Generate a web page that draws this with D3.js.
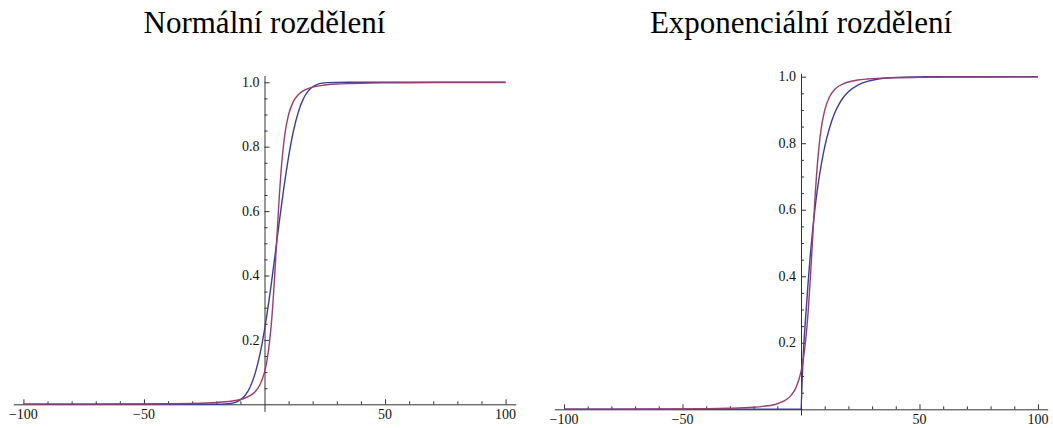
<!DOCTYPE html>
<html>
<head>
<meta charset="utf-8">
<script src="https://cdn.jsdelivr.net/npm/d3@7"></script>
<style>
  html, body { margin: 0; padding: 0; background: #fff; }
  svg { display: block; }
</style>
</head>
<body>
<svg id="chart" width="1053" height="428"></svg>
<script>
// Panel titles
const titles = ["Normální rozdělení", "Exponenciální rozdělení"];

// Tick values
const xMajorTicks = [-100, -50, 50, 100];
const xMinorTicks = [-90, -80, -70, -60, -40, -30, -20, -10, 10, 20, 30, 40, 60, 70, 80, 90];
const yMajorTicks = [0.2, 0.4, 0.6, 0.8, 1.0];
const yMinorTicks = [0.05, 0.1, 0.15, 0.25, 0.3, 0.35, 0.45, 0.5, 0.55, 0.65, 0.7, 0.75, 0.85, 0.9, 0.95];

// Left panel: distribution functions, normal case
const normX = [-100, -80, -60, -40, -30, -24, -20, -16, -14, -12,
  -10, -8, -6, -4, -2, 0, 1, 2, 3, 4, 5, 6, 7, 8, 9, 10,
  12, 14, 16, 18, 20, 22, 24, 26, 30, 35, 40, 50, 60, 80, 100];
const normBlue = [0, 0, 0, 0, 0, 0, 0.0001, 0.0010, 0.0026, 0.0062,
  0.0137, 0.0280, 0.0529, 0.0928, 0.1517, 0.2311,
  0.2782, 0.3296, 0.3843, 0.4415, 0.5, 0.5585, 0.6157, 0.6704, 0.7218, 0.7689,
  0.8483, 0.9072, 0.9471, 0.9720, 0.9863, 0.9938, 0.9974, 0.9990,
  0.9999, 1, 1, 1, 1, 1, 1];
const normPurple = [0.0003, 0.0005, 0.0008, 0.0017, 0.0028, 0.0041, 0.0055, 0.0078, 0.0095, 0.0117,
  0.0149, 0.0196, 0.0267, 0.0384, 0.0592, 0.0999,
  0.1352, 0.1875, 0.2646, 0.3712, 0.5, 0.6288, 0.7354, 0.8125, 0.8648, 0.9001,
  0.9408, 0.9616, 0.9733, 0.9804, 0.9851, 0.9883, 0.9905, 0.9922,
  0.9945, 0.9961, 0.9972, 0.9983, 0.9988, 0.9994, 0.9996];

// Right panel: distribution functions, exponential case
const expX = [-100, -80, -60, -40, -30, -24, -20, -16, -14, -12,
  -10, -8, -6, -4, -2, 0, 0.5, 1, 2, 3, 4, 5, 6, 7, 8, 9, 10,
  12, 14, 16, 18, 20, 24, 28, 32, 36, 40, 50, 60, 80, 100];
const expBlue = [0, 0, 0, 0, 0, 0, 0, 0, 0, 0,
  0, 0, 0, 0, 0, 0, 0.09, 0.17, 0.28, 0.38, 0.47, 0.545, 0.61, 0.665, 0.712, 0.753, 0.789,
  0.845, 0.887, 0.917, 0.939, 0.955, 0.975, 0.986, 0.992, 0.996, 0.998,
  0.9995, 1, 1, 1];
const expPurple = [0.0004, 0.0005, 0.0009, 0.0019, 0.0032, 0.0046, 0.0062, 0.0087, 0.0106, 0.0131,
  0.0168, 0.0220, 0.0302, 0.0435, 0.0671, 0.1132, 0.131, 0.1525, 0.210, 0.292, 0.400, 0.525, 0.646, 0.744, 0.816, 0.865, 0.899,
  0.939, 0.960, 0.972, 0.979, 0.984, 0.990, 0.993, 0.995, 0.996, 0.997,
  0.998, 0.9987, 0.9993, 0.9996];

const BLUE = "#3d3d99";
const PURPLE = "#993d74";
const AXIS = "#333";
const SERIF = "'Liberation Serif', 'Times New Roman', serif";
const LABEL_SIZE = "14px";

const svg = d3.select("#chart");
const fmtX = d3.format("d");
const fmtY = d3.format(".1f");

function drawPanel(cfg) {
  const x = d3.scaleLinear().domain(cfg.xDomain).range(cfg.xRange);
  const y = d3.scaleLinear().domain(cfg.yDomain).range(cfg.yRange);
  const g = svg.append("g");

  const x0 = x(0), y0 = y(0);

  // x axis line with minor and major ticks pointing up
  const xa = g.append("g").attr("transform", `translate(0,${y0})`);
  xa.append("g").call(d3.axisTop(x).tickValues(xMinorTicks).tickSize(3).tickSizeOuter(0).tickFormat(""));
  xa.append("g").call(d3.axisTop(x).tickValues(xMajorTicks).tickSize(5).tickSizeOuter(0).tickFormat(""))
    .select(".domain").remove();

  // y axis line with ticks to the right
  const ya = g.append("g").attr("transform", `translate(${x0},0)`);
  ya.append("g").call(d3.axisRight(y).tickValues(yMinorTicks).tickSize(3).tickSizeOuter(0).tickFormat(""));
  ya.append("g").call(d3.axisRight(y).tickValues(yMajorTicks).tickSize(5).tickSizeOuter(0).tickFormat(""))
    .select(".domain").remove();

  g.selectAll(".domain, .tick line").attr("stroke", AXIS).attr("stroke-width", 1);

  // tick labels
  g.append("g").selectAll("text").data(xMajorTicks).join("text")
    .attr("x", d => x(d)).attr("y", y0 + 15)
    .attr("text-anchor", "middle")
    .style("font-family", SERIF).style("font-size", LABEL_SIZE).style("fill", "#111")
    .text(d => fmtX(d));
  g.append("g").selectAll("text").data(yMajorTicks).join("text")
    .attr("x", x0 - 5).attr("y", d => y(d)).attr("dy", "0.33em")
    .attr("text-anchor", "end")
    .style("font-family", SERIF).style("font-size", LABEL_SIZE).style("fill", "#111")
    .text(d => fmtY(d));

  const line = d3.line()
    .x((d, i) => x(cfg.xs[i]))
    .y(d => y(d))
    .curve(d3.curveMonotoneX);

  g.append("path").datum(cfg.blue)
    .attr("fill", "none").attr("stroke", BLUE).attr("stroke-width", 1.4)
    .attr("d", line);
  g.append("path").datum(cfg.purple)
    .attr("fill", "none").attr("stroke", PURPLE).attr("stroke-width", 1.4)
    .attr("d", line);

  g.append("text")
    .attr("x", x0).attr("y", 33)
    .attr("text-anchor", "middle")
    .style("font-family", SERIF).style("font-size", "31px").style("fill", "#000")
    .text(cfg.title);
}

drawPanel({
  title: titles[0],
  xs: normX, blue: normBlue, purple: normPurple,
  xDomain: [-104.2, 104.2], xRange: [13.3, 515.7],
  yDomain: [-0.022, 1.021], yRange: [404.3 + 0.022 * 322, 404.3 - 1.021 * 322]
});

drawPanel({
  title: titles[1],
  xs: expX, blue: expBlue, purple: expPurple,
  xDomain: [-104.1, 104.1], xRange: [554.3, 1047.7],
  yDomain: [-0.017, 1.010], yRange: [409.3 + 0.017 * 332.6, 409.3 - 1.010 * 332.6]
});
</script>
</body>
</html>
